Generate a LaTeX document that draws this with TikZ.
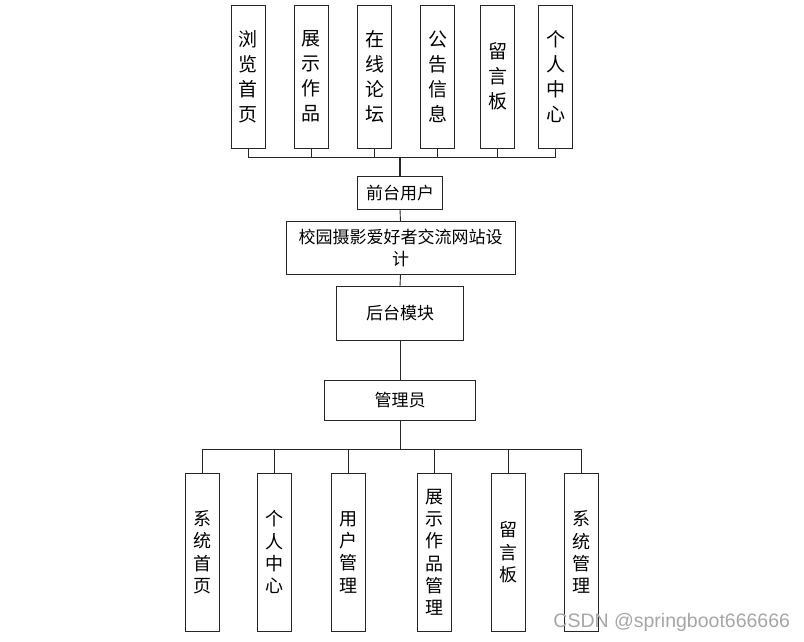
\documentclass[tikz,border=0pt]{standalone}
\usepackage{fontspec}
\newfontfamily\cjk{Noto Sans CJK SC}
\setmainfont{Liberation Sans}
\begin{document}
\begin{tikzpicture}[x=1pt,y=-1pt,
  line width=0.9pt,
  vbox/.style={draw=black!85, fill=white, inner sep=0pt, minimum width=34pt, align=center, text=black},
  topbox/.style={vbox, minimum height=143pt, font=\cjk\fontsize{19}{25}\selectfont},
  botbox/.style={vbox, minimum height=158pt, font=\cjk\fontsize{18}{22.3}\selectfont},
  midbox/.style={draw=black!85, fill=white, inner sep=0pt, align=center, font=\cjk\fontsize{17}{22}\selectfont},
  conn/.style={draw=black!85, line width=0.9pt}]
\useasboundingbox (0,0) rectangle (804,642);
\fill[white] (0,0) rectangle (804,642);
% top boxes
\node[topbox] (t1) at (248.3,76.5) {浏\\览\\首\\页};
\node[topbox] (t2) at (311.3,76.5) {展\\示\\作\\品};
\node[topbox] (t3) at (374.7,76.5) {在\\线\\论\\坛};
\node[topbox] (t4) at (437.8,76.5) {公\\告\\信\\息};
\node[topbox] (t5) at (497.5,76.5) {留\\言\\板};
\node[topbox] (t6) at (555.5,76.5) {个\\人\\中\\心};
\coordinate (busT) at (400,157.7);
% middle column
\node[midbox, minimum width=85pt, minimum height=33pt] (front) at (400,192.7) {前台用户};
\node[midbox, minimum width=229pt, minimum height=52.6pt] (site) at (400.5,248) {校园摄影爱好者交流网站设\\计};
\node[midbox, minimum width=126.6pt, minimum height=53.3pt] (back) at (400,313.3) {后台模块};
\node[midbox, minimum width=151.4pt, minimum height=40pt] (admin) at (400,400) {管理员};
\coordinate (busB) at (400,449.3);
% bottom boxes
\node[botbox] (b1) at (202.2,552.2) {系\\统\\首\\页};
\node[botbox] (b2) at (274.7,552.2) {个\\人\\中\\心};
\node[botbox] (b3) at (348.3,552.2) {用\\户\\管\\理};
\node[botbox] (b4) at (434.5,552.2) {展\\示\\作\\品\\管\\理};
\node[botbox] (b5) at (508,552.2) {留\\言\\板};
\node[botbox] (b6) at (581.3,552.2) {系\\统\\管\\理};
% connectors top
\foreach \n in {t1,t2,t3,t4,t5,t6} \draw[conn] (\n.south) |- (busT);
\draw[conn, line width=1.6pt] (busT) -- (front.north);
\draw[conn] (front.south) -- (site.north);
\draw[conn] (site.south) -- (back.north);
\draw[conn] (back.south) -- (admin.north);
\draw[conn] (admin.south) -- (busB);
\foreach \n in {b1,b2,b3,b4,b5,b6} \draw[conn] (busB) -| (\n.north);
% watermark
\node[anchor=west, inner sep=0pt, text=black!35, font=\fontsize{19.5}{22}\selectfont] (wm) at (553,622) {CSDN @springboot666666};
\end{tikzpicture}
\end{document}
